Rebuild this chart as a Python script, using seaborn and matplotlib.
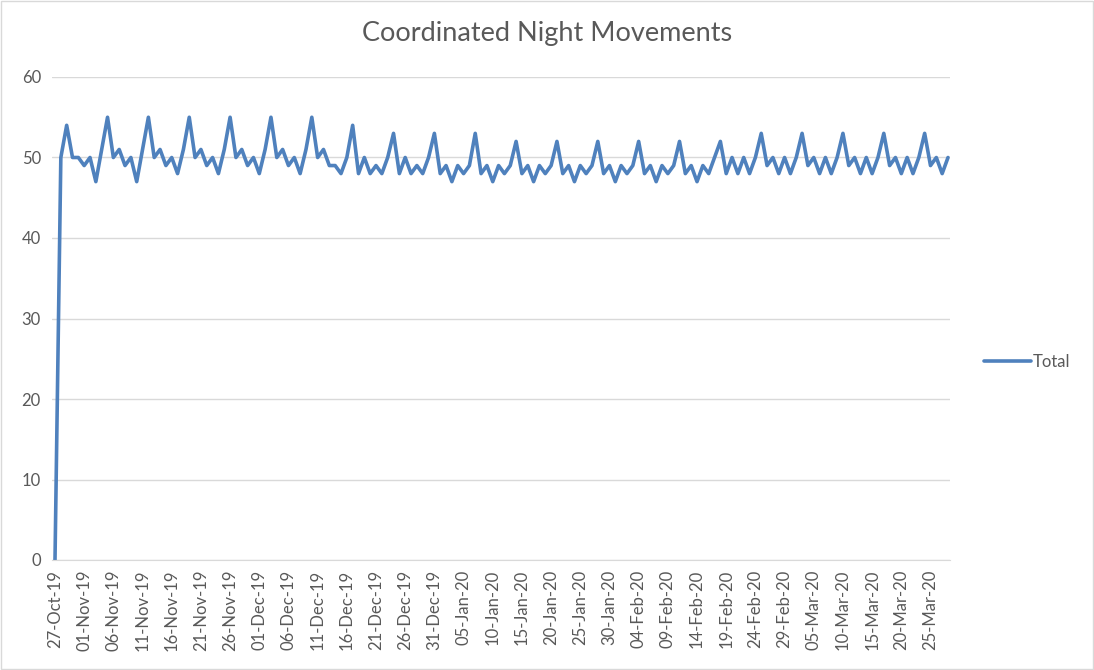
import matplotlib
matplotlib.use("Agg")
import matplotlib.pyplot as plt
import seaborn as sns
import pandas as pd

# Valores diarios (27-Oct-19 en adelante)
start_date = "2019-10-27"
total = [
    0, 50, 54, 50, 50, 49, 50, 47, 51, 55,
    50, 51, 49, 50, 47, 51, 55,
    50, 51, 49, 50, 48, 51, 55,
    50, 51, 49, 50, 48, 51, 55,
    50, 51, 49, 50, 48, 51, 55,
    50, 51, 49, 50, 48, 51, 55,
    50, 51, 49, 49, 48, 50, 54,
    48, 50, 48, 49, 48, 50, 53,
    48, 50, 48, 49, 48, 50, 53,
    48, 49, 47, 49, 48, 49, 53,
    48, 49, 47, 49, 48, 49, 52,
    48, 49, 47, 49, 48, 49, 52,
    48, 49, 47, 49, 48, 49, 52,
    48, 49, 47, 49, 48, 49, 52,
    48, 49, 47, 49, 48, 49, 52,
    48, 49, 47, 49, 48, 50, 52,
    48, 50, 48, 50, 48, 50, 53,
    49, 50, 48, 50, 48, 50, 53,
    49, 50, 48, 50, 48, 50, 53,
    49, 50, 48, 50, 48, 50, 53,
    49, 50, 48, 50, 48, 50, 53,
    49, 50, 48, 50,
]
y_ticks = [0, 10, 20, 30, 40, 50, 60]

df = pd.DataFrame({"fecha": pd.date_range(start_date, periods=len(total), freq="D"),
                   "Total": total})
df["dia"] = range(len(df))

sns.set_style("white")
plt.rcParams["font.family"] = ["Lato", "DejaVu Sans"]
grey = "#595959"

fig = plt.figure(figsize=(10.94, 6.70), dpi=100)
ax = fig.add_axes([52 / 1094, 1 - 560 / 670, (950 - 52) / 1094, (560 - 77) / 670])

sns.lineplot(data=df, x="dia", y="Total", ax=ax, color="#4F81BD", linewidth=2.6,
             label="Total", legend=False)

px_day = (948 - 55) / (len(total) - 1)
ax.set_xlim(-3 / px_day, len(total) - 1 + 2 / px_day)
ax.set_ylim(0, 60)
ax.set_yticks(y_ticks)
ax.set_yticklabels([str(v) for v in y_ticks])
ax.set_xticks(df["dia"][::5])
ax.set_xticklabels(df["fecha"][::5].dt.strftime("%d-%b-%y"), rotation=90)

ax.grid(axis="y", color="#d9d9d9", linewidth=1)
ax.set_axisbelow(True)
for s in ["top", "right", "left"]:
    ax.spines[s].set_visible(False)
ax.spines["bottom"].set_color("#d9d9d9")
ax.tick_params(axis="both", length=0, colors=grey, labelsize=12)
ax.tick_params(axis="y", pad=8)
ax.tick_params(axis="x", pad=7)
ax.set_xlabel("")
ax.set_ylabel("")

fig.suptitle("Coordinated Night Movements", x=0.5, y=1 - 34 / 670, va="center",
             fontsize=19.5, color=grey)

handles, labels = ax.get_legend_handles_labels()
fig.legend(handles, labels, loc="center left", bbox_to_anchor=(969 / 1094, 1 - 362 / 670),
           frameon=False, fontsize=12, labelcolor=grey, handlelength=2.8,
           handletextpad=0.1)

fig.patches.append(plt.Rectangle((0.001, 0.001), 0.998, 0.997, transform=fig.transFigure,
                                 fill=False, edgecolor="#d9d9d9", linewidth=1))

fig.savefig("out.png", dpi=100)
print("Saved out.png")
